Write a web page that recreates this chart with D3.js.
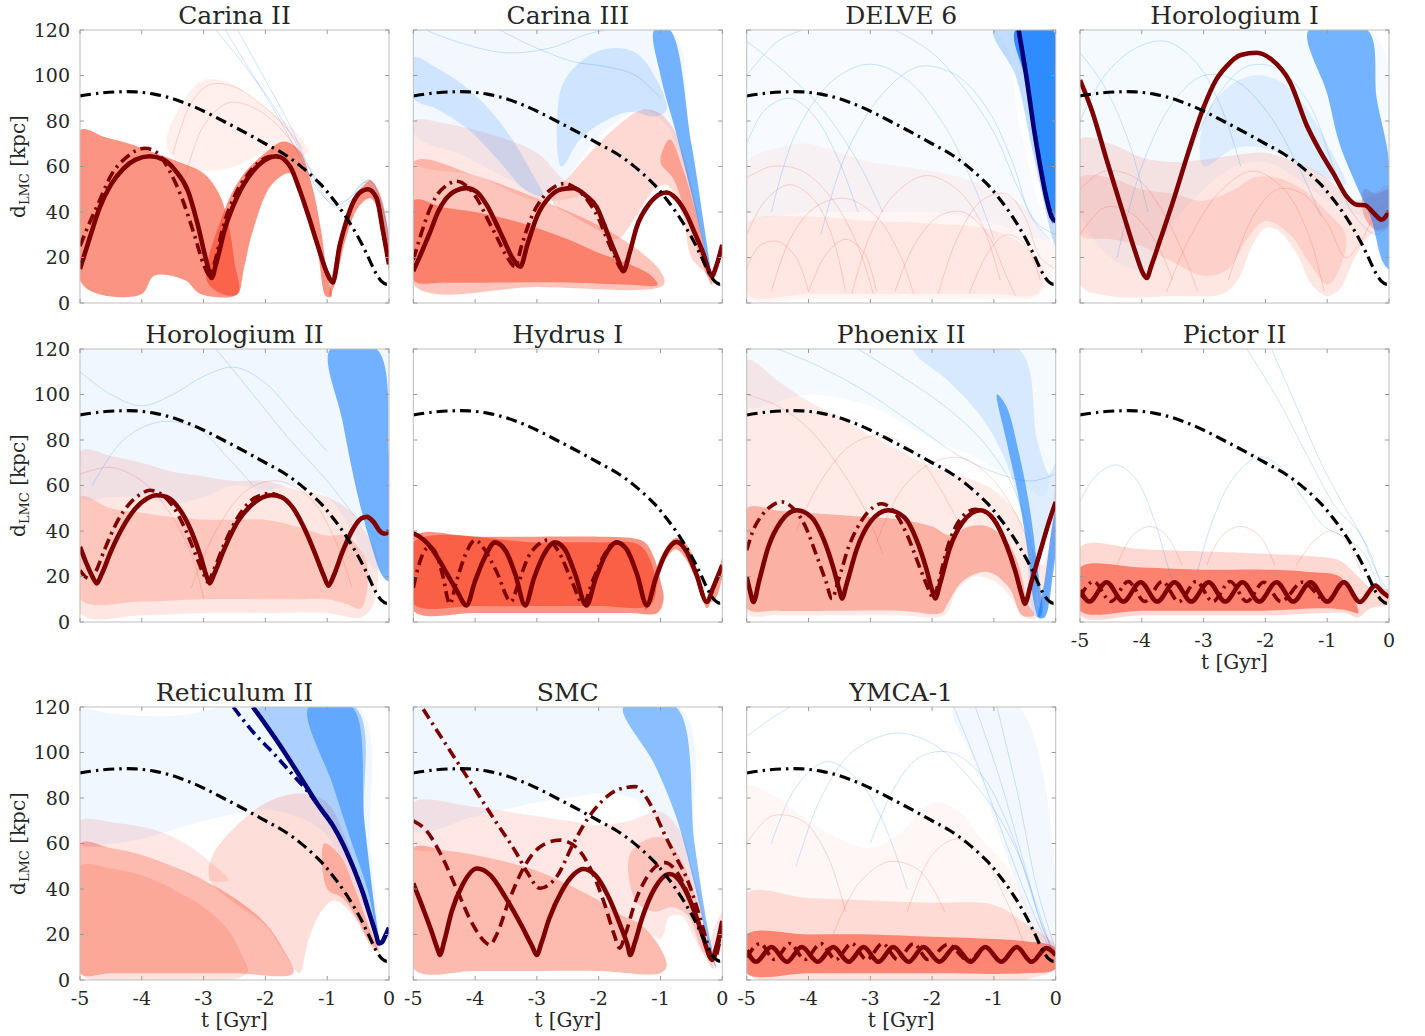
<!DOCTYPE html>
<html><head><meta charset="utf-8">
<script src="https://cdn.jsdelivr.net/npm/d3@7"></script>
<style>body{margin:0;background:#fff}svg{display:block}</style>
</head><body><svg id="c" width="1425" height="1036"></svg>
<script>
// ---------------- axis ticks ----------------
const xTicks = [-5,-4,-3,-2,-1,0];
const yTicks = [0,20,40,60,80,100,120];
const panelNames = ["Carina II","Carina III","DELVE 6","Horologium I","Horologium II","Hydrus I","Phoenix II","Pictor II","Reticulum II","SMC","YMCA-1"];

// ---------------- LMC (black dash-dot, same in every panel) ----------------
const lmc = [[-5,91],[-4.7,92.2],[-4.4,92.8],[-4.1,92.8],[-3.8,91.8],[-3.5,89.8],[-3.2,86.8],[-2.9,83],[-2.6,78.8],[-2.3,74.5],[-2,70],[-1.7,65.5],[-1.4,59.5],[-1.1,52],[-0.9,45.5],[-0.7,38],[-0.5,29],[-0.35,21],[-0.22,13.5],[-0.12,9.5],[-0.05,8.3],[0,8.5]];

// ---------------- Carina II ----------------
const car2Solid = [[-5,15],[-4.85,28],[-4.68,42],[-4.5,52],[-4.3,59],[-4.1,63],[-3.87,64.5],[-3.65,63],[-3.45,58],[-3.25,49],[-3.1,35],[-2.95,18],[-2.87,11],[-2.8,17],[-2.65,33],[-2.45,47],[-2.2,58],[-2.0,63],[-1.82,64.5],[-1.6,60],[-1.45,50],[-1.3,38],[-1.15,25],[-1.0,13],[-0.91,9],[-0.8,25],[-0.7,35],[-0.6,43],[-0.45,49],[-0.34,50],[-0.2,46],[-0.1,32],[0,17]];
const car2DashDot = [[-5,25],[-4.85,35],[-4.7,44],[-4.5,56],[-4.25,64],[-3.95,68],[-3.75,66],[-3.55,58],[-3.35,46],[-3.15,30],[-3.0,17],[-2.9,12],[-2.82,18],[-2.68,34],[-2.5,47],[-2.3,56],[-2.1,62],[-1.9,64.5],[-1.7,63],[-1.6,60],[-1.45,50],[-1.3,38],[-1.15,25],[-1.0,13],[-0.91,9],[-0.8,25],[-0.7,35],[-0.6,43],[-0.45,49],[-0.34,50],[-0.2,46],[-0.1,32],[0,17]];
const car2RedDense = [[-5,76],[-4.6,73],[-4.2,70],[-3.8,66],[-3.4,62],[-3.0,57],[-2.75,48],[-2.6,35],[-2.5,18],[-2.45,4],[-3.05,4],[-3.3,10],[-3.8,12],[-4.0,4],[-4.7,4],[-5,10]];
const car2RedLight = [[-3.6,70],[-3.3,90],[-3.0,98],[-2.6,97],[-2.2,90],[-1.8,82],[-1.5,75],[-1.3,66],[-1.6,64],[-2.0,66],[-2.5,60],[-3.0,58],[-3.4,62]];
const car2RedArc2 = [[-2.95,10],[-2.7,38],[-2.4,55],[-2.0,66],[-1.7,71],[-1.45,67],[-1.25,52],[-1.1,32],[-1.0,12],[-0.93,3],[-1.02,3],[-1.15,22],[-1.35,45],[-1.6,57],[-1.9,52],[-2.2,32],[-2.35,15],[-2.45,4],[-2.7,4]];
const car2RedArc3 = [[-0.96,3],[-0.8,28],[-0.6,45],[-0.4,52],[-0.3,54],[-0.15,48],[0,28],[0,14],[-0.12,36],[-0.3,46],[-0.5,42],[-0.7,28],[-0.88,8]];
const car2Blue1 = [[-2.65,120],[-2.2,100],[-1.8,82],[-1.4,62],[-1.1,48],[-0.85,43],[-0.6,47],[-0.4,53],[-0.25,50],[-0.1,38],[0,25]];
const car2Blue2 = [[-2.45,120],[-2.0,98],[-1.6,78],[-1.3,60],[-1.0,45],[-0.8,42],[-0.55,47],[-0.35,54],[-0.2,50],[0,28]];
const car2Blue3 = [[-2.8,120],[-2.3,103],[-1.9,88],[-1.5,70],[-1.2,55],[-0.95,45],[-0.7,45],[-0.45,52],[-0.3,54],[0,30]];
const car2Red1 = [[-3.5,65],[-3.2,88],[-2.9,96],[-2.5,95],[-2.1,88],[-1.7,78],[-1.4,68]];
const car2Red2 = [[-3.3,55],[-3.0,78],[-2.6,88],[-2.2,86],[-1.8,78],[-1.5,68]];

// ---------------- Carina III ----------------
const car3Solid = [[-5,14],[-4.87,22],[-4.73,31],[-4.6,40],[-4.48,45.5],[-4.3,49.5],[-4.14,50.5],[-3.98,49],[-3.81,43],[-3.66,35],[-3.54,28],[-3.4,20],[-3.27,16],[-3.15,26],[-3.0,38],[-2.8,46.5],[-2.6,50],[-2.41,50.5],[-2.2,47],[-2.03,42],[-1.92,35],[-1.82,28],[-1.7,20],[-1.6,14],[-1.5,22],[-1.39,33],[-1.17,44],[-1.0,48],[-0.9,48.6],[-0.75,46],[-0.58,39],[-0.45,31],[-0.31,22],[-0.2,13],[-0.17,11.7],[-0.1,16],[0,25.6]];
const car3DashDot = [[-5,19],[-4.9,28],[-4.78,38],[-4.65,46],[-4.47,51.5],[-4.3,53.5],[-4.12,51],[-3.95,45],[-3.8,37],[-3.65,29],[-3.5,21],[-3.35,16],[-3.25,25],[-3.1,37],[-2.9,46.5],[-2.72,51],[-2.55,52.5],[-2.35,50],[-2.15,44],[-2.0,37],[-1.88,29],[-1.75,21],[-1.63,15],[-1.5,22],[-1.39,33],[-1.17,44],[-1.0,48],[-0.9,48.6],[-0.75,46],[-0.58,39],[-0.45,31],[-0.31,22],[-0.2,13],[-0.17,11.7],[-0.1,16],[0,25.6]];
const car3RedDense = [[-5,45],[-4.5,42],[-4,40],[-3.5,37],[-3,33],[-2.5,28],[-2,22],[-1.5,17],[-1.15,12],[-1.05,8],[-1.5,8],[-2.5,9],[-3.5,9],[-4.5,9],[-5,10]];
const car3RedMid = [[-5,62],[-4,56],[-3,46],[-2,34],[-1.5,26],[-1.0,14],[-0.95,8],[-3,7],[-5,8]];
const car3RedLight = [[-5,80],[-4.5,79],[-4,76],[-3.5,72],[-3,66],[-2.6,55],[-2.3,48],[-3,45],[-4,56],[-5,62]];
const car3RedFan = [[-2.75,45],[-2.4,58],[-2.0,70],[-1.6,80],[-1.3,85],[-1.05,84],[-0.8,77],[-0.6,62],[-0.42,42],[-0.27,22],[-0.17,8],[-0.1,10],[-0.3,14],[-0.5,20],[-0.62,36],[-0.75,46],[-0.9,52],[-1.1,50],[-1.4,38],[-1.7,28],[-2.0,32],[-2.4,38]];
const car3RedFanDense = [[-0.85,72],[-0.65,60],[-0.45,42],[-0.3,25],[-0.17,8],[-0.25,12],[-0.45,28],[-0.62,42],[-0.8,55],[-1.0,62]];
const car3BlueLight = [[-5,120],[-0.85,120],[-0.55,80],[-0.3,35],[-0.15,10],[-0.35,30],[-0.6,58],[-0.9,78],[-1.3,85],[-1.7,80],[-2.1,70],[-2.5,55],[-2.8,45],[-3.5,55],[-4.2,65],[-5,75]];
const car3BlueFan = [[-1.1,120],[-0.85,120],[-0.5,70],[-0.3,35],[-0.17,10],[-0.3,25],[-0.5,48],[-0.75,75],[-1.0,100]];
const car3BlueMid = [[-2.6,95],[-2.2,108],[-1.8,112],[-1.4,110],[-1.1,100],[-0.9,85],[-1.1,82],[-1.5,84],[-1.9,80],[-2.3,72],[-2.6,60]];
const car3BlueLeft = [[-5,108],[-4.6,103],[-4.2,96],[-3.8,86],[-3.4,72],[-3.1,58],[-2.9,47],[-3.2,50],[-3.6,62],[-4.1,76],[-4.6,85],[-5,90]];
const car3Blue1 = [[-4.8,120],[-4.2,114],[-3.5,110],[-2.8,112],[-2.2,118],[-1.9,120]];
const car3Blue2 = [[-3.6,120],[-3.0,112],[-2.4,106],[-1.9,104],[-1.4,100],[-1.0,90]];

// ---------------- DELVE 6 ----------------
const del6Solid = [[-0.6,120],[-0.46,97],[-0.36,78],[-0.25,60],[-0.14,45],[-0.06,37.5],[0,36]];
const del6BlueDense = [[-0.65,120],[-0.05,120],[0,100],[0,42],[-0.05,35],[-0.1,40],[-0.25,62],[-0.45,95]];
const del6BlueMid = [[-1.0,120],[0,120],[0,25],[-0.05,28],[-0.2,45],[-0.4,70],[-0.65,100]];
const del6BlueLight = [[-5,120],[-1,120],[-0.6,80],[-0.3,45],[-0.1,28],[-1,35],[-2,40],[-3,40],[-4,40],[-5,40]];
const del6RedLight = [[-5,62],[-4.5,68],[-4,70],[-3.5,66],[-3,62],[-2.5,60],[-2,58],[-1.5,55],[-1,50],[-0.5,42],[-0.2,30],[0,25],[0,18],[-0.3,3],[-1,2],[-2,2],[-3,2],[-4,2],[-5,3]];
const del6RedMid = [[-5,35],[-4,38],[-3,36],[-2,35],[-1,32],[-0.5,25],[-0.2,15],[-0.3,4],[-1,4],[-2,4],[-3,4],[-4,4],[-5,4]];
const del6R1 = [[-5,30],[-4.7,45],[-4.3,52],[-3.9,45],[-3.6,28],[-3.4,5]];
const del6R2 = [[-4.6,5],[-4.3,28],[-3.9,42],[-3.4,46],[-2.9,38],[-2.5,20],[-2.3,4]];
const del6R3 = [[-3.3,4],[-3.0,30],[-2.6,48],[-2.1,56],[-1.6,50],[-1.2,35],[-0.9,10]];
const del6R4 = [[-5,55],[-4.6,60],[-4.1,58],[-3.6,45],[-3.2,25],[-2.95,4]];
const del6R5 = [[-2.6,5],[-2.3,25],[-1.9,38],[-1.5,40],[-1.1,30],[-0.8,12],[-0.65,3]];
const del6R6 = [[-1.9,4],[-1.6,28],[-1.2,45],[-0.8,48],[-0.5,38],[-0.25,20],[0,15]];
const del6R7 = [[-5,15],[-4.8,25],[-4.5,27],[-4.2,20],[-4.0,5]];
const del6R8 = [[-4.0,5],[-3.7,22],[-3.4,28],[-3.1,22],[-2.9,5]];
const del6R9 = [[-1.4,4],[-1.1,22],[-0.8,30],[-0.5,26],[-0.25,10]];
const del6B1 = [[-5,100],[-4.5,115],[-4.1,120]];
const del6B2 = [[-4.6,40],[-4.2,75],[-3.6,98],[-3.0,105],[-2.4,98],[-1.8,78],[-1.3,50],[-1.0,28]];
const del6B3 = [[-3.8,30],[-3.4,65],[-2.8,92],[-2.2,104],[-1.6,100],[-1.1,85],[-0.7,62],[-0.4,38],[-0.1,28]];
const del6B4 = [[-5,70],[-4.7,85],[-4.3,90],[-3.9,82],[-3.5,62],[-3.2,40]];
const del6B5 = [[-2.6,120],[-2.0,110],[-1.5,95],[-1.0,75],[-0.6,50],[-0.3,35],[0,30]];
const del6B6 = [[-5,115],[-4.4,102],[-3.8,86],[-3.2,62],[-2.8,40]];

// ---------------- Horologium I ----------------
const hor1Solid = [[-5,98],[-4.8,84],[-4.57,63],[-4.4,48],[-4.24,34],[-4.1,22],[-3.98,13],[-3.92,11],[-3.85,16],[-3.7,28],[-3.49,45],[-3.25,66],[-3.0,86],[-2.8,98],[-2.63,104],[-2.4,109],[-2.14,110],[-1.9,107],[-1.6,97],[-1.33,78],[-1.1,66],[-0.9,57],[-0.69,47],[-0.52,43.2],[-0.39,43],[-0.25,39.6],[-0.12,36.6],[0,40.3]];
const hor1RedLight = [[-5,72],[-4.5,70],[-4,64],[-3.5,62],[-3,63],[-2.5,65],[-2,66],[-1.5,62],[-1.0,55],[-0.6,45],[-0.3,47],[0,52],[0,33],[-0.3,30],[-0.55,20],[-0.8,6],[-1.0,3],[-1.25,8],[-1.5,22],[-1.8,32],[-2.0,33],[-2.2,26],[-2.45,10],[-2.7,4],[-3.5,3],[-4.5,3],[-5,8]];
const hor1RedDense = [[-5,55],[-4.5,55],[-4,50],[-3.5,48],[-3,45],[-2.5,50],[-2.2,55],[-1.8,55],[-1.4,50],[-1.0,40],[-0.7,30],[-0.8,15],[-1.0,8],[-1.3,18],[-1.6,30],[-2.0,36],[-2.3,28],[-2.6,15],[-3,12],[-3.5,18],[-4,25],[-4.5,28],[-5,30]];
const hor1RedRight = [[-0.4,50],[-0.2,48],[0,50],[0,35],[-0.2,32],[-0.4,38]];
const hor1BlueLight = [[-5,120],[-0.3,120],[0,60],[0,18],[-0.3,35],[-0.6,40],[-1,45],[-1.5,55],[-2,62],[-2.5,60],[-3,50],[-3.5,35],[-4,15],[-4.5,20],[-5,40]];
const hor1BlueFan = [[-1.3,120],[-0.35,120],[-0.2,90],[0,62],[0,15],[-0.1,18],[-0.3,38],[-0.5,50],[-0.8,70],[-1.0,92]];
const hor1BlueMid = [[-3.0,80],[-2.6,95],[-2.2,100],[-1.8,98],[-1.4,88],[-1.0,70],[-0.7,52],[-1.0,55],[-1.5,62],[-2.0,68],[-2.5,68],[-3.0,60]];
const hor1B1 = [[-5,80],[-4.6,100],[-4.1,112],[-3.6,115],[-3.1,105],[-2.7,85],[-2.4,60]];
const hor1B2 = [[-4.4,20],[-4.0,60],[-3.5,88],[-3.0,100],[-2.5,98],[-2.0,85],[-1.5,62],[-1.1,38]];
const hor1B3 = [[-3.3,60],[-2.8,90],[-2.3,104],[-1.8,103],[-1.3,88],[-0.9,60],[-0.6,40],[-0.2,30],[0,35]];
const hor1B4 = [[-5,110],[-4.6,95],[-4.2,70],[-3.9,40]];
const hor1R1 = [[-5,50],[-4.6,58],[-4.1,55],[-3.7,42],[-3.3,20],[-3.1,5]];
const hor1R2 = [[-3.6,5],[-3.2,30],[-2.7,50],[-2.2,58],[-1.7,50],[-1.3,30],[-1.05,5]];
const hor1R3 = [[-5,30],[-4.6,42],[-4.2,40],[-3.8,28],[-3.5,10]];
const hor1R4 = [[-2.6,10],[-2.2,38],[-1.8,50],[-1.4,48],[-1.0,35],[-0.7,20],[-0.5,25],[-0.2,40],[0,45]];

// ---------------- Horologium II ----------------
const hor2Solid = [[-5,33],[-4.9,26],[-4.8,20],[-4.73,17],[-4.65,21],[-4.5,31],[-4.3,42],[-4.1,50],[-3.9,54.5],[-3.76,55.7],[-3.6,55],[-3.4,50],[-3.2,40],[-3.05,29],[-2.95,20],[-2.9,17],[-2.83,21],[-2.65,33],[-2.45,44],[-2.2,52],[-2.0,55.3],[-1.9,55.7],[-1.75,55],[-1.55,50],[-1.35,40],[-1.18,29],[-1.05,20],[-0.98,16],[-0.9,20],[-0.75,31],[-0.6,40],[-0.45,45.5],[-0.36,46.2],[-0.25,44],[-0.15,40],[-0.09,38.9],[-0.04,39],[0,40.3]];
const hor2DashDot = [[-5,22.7],[-4.92,20],[-4.84,19],[-4.75,22],[-4.6,32],[-4.4,44],[-4.2,52],[-4.0,56.5],[-3.87,57.9],[-3.7,56.5],[-3.5,51],[-3.3,41],[-3.12,29],[-3.0,21],[-2.93,17.6],[-2.85,22],[-2.67,34],[-2.47,45],[-2.25,53],[-2.05,56],[-1.93,56.5],[-1.75,55],[-1.55,50],[-1.35,40],[-1.18,29],[-1.05,20],[-0.98,16],[-0.9,20],[-0.75,31],[-0.6,40],[-0.45,45.5],[-0.36,46.2],[-0.25,44],[-0.15,40],[-0.09,38.9],[-0.04,39],[0,40.3]];
const hor2RedLight = [[-5,75],[-4.5,73],[-4,70],[-3.5,66],[-3,64],[-2.5,62],[-2,62],[-1.5,58],[-1,55],[-0.6,48],[-0.35,38],[-0.2,30],[-0.25,8],[-0.45,2],[-1,4],[-2,4],[-3,4],[-4,3],[-5,4]];
const hor2RedDense = [[-5,55],[-4.5,50],[-4,48],[-3.5,46],[-3,45],[-2.5,45],[-2,45],[-1.5,42],[-1,38],[-0.7,38],[-0.5,33],[-0.35,25],[-0.45,6],[-0.7,8],[-1,10],[-1.5,10],[-2,10],[-3,10],[-4,9],[-5,10]];
const hor2BlueLight = [[-5,120],[0,120],[0,22],[-0.3,25],[-0.6,40],[-1,55],[-1.5,60],[-2,58],[-2.5,60],[-3,55],[-3.5,52],[-4,55],[-4.5,55],[-5,55]];
const hor2BlueFan = [[-0.95,120],[-0.2,120],[0,72],[0,18],[-0.1,20],[-0.3,35],[-0.5,55],[-0.75,88]];
const hor2B1 = [[-5,110],[-4.5,100],[-4,95],[-3.5,100],[-3,108],[-2.5,112],[-2,105],[-1.5,90],[-1,75]];
const hor2B2 = [[-4.8,60],[-4.3,80],[-3.7,88],[-3.1,85],[-2.6,72],[-2.2,60]];
const hor2B3 = [[-2.8,120],[-2.2,100],[-1.6,80],[-1.0,62],[-0.5,45],[-0.1,35]];
const hor2R1 = [[-5,65],[-4.5,68],[-4,62],[-3.6,50],[-3.2,30],[-3.0,10]];
const hor2R2 = [[-3.2,15],[-2.8,40],[-2.3,58],[-1.8,62],[-1.3,55],[-0.9,38],[-0.6,15]];

// ---------------- Hydrus I ----------------
const hyd1Solid = [[-5,39],[-4.9,37.5],[-4.75,34],[-4.6,28],[-4.45,21],[-4.3,14],[-4.14,7.3],[-4.0,18],[-3.85,28],[-3.68,35],[-3.5,31],[-3.35,21],[-3.19,7.3],[-3.05,19],[-2.9,29],[-2.71,35],[-2.55,32],[-2.38,21],[-2.2,7.3],[-2.05,19],[-1.9,29],[-1.71,35],[-1.55,32],[-1.38,21],[-1.22,7.3],[-1.08,19],[-0.92,30],[-0.74,35.2],[-0.58,31],[-0.42,21],[-0.25,8.8],[-0.15,15],[0,25]];
const hyd1DashDot = [[-5,15],[-4.9,26],[-4.8,32],[-4.73,33],[-4.63,30],[-4.52,20],[-4.41,8],[-4.3,18],[-4.15,30],[-4.0,36],[-3.85,32],[-3.65,22],[-3.42,9],[-3.3,17],[-3.15,28],[-2.98,34],[-2.82,36],[-2.65,31],[-2.45,19],[-2.25,8],[-2.1,18],[-1.92,29],[-1.73,35],[-1.55,32],[-1.38,21],[-1.22,7.3],[-1.08,19],[-0.92,30],[-0.74,35.2],[-0.58,31],[-0.42,21],[-0.25,8.8],[-0.15,15],[0,25]];
const hyd1RedBand = [[-5,37.5],[-4,37.5],[-3,37.5],[-2,37.5],[-1.5,37],[-1.25,35],[-1.1,28],[-1.0,18],[-0.95,10],[-1.05,4],[-1.5,4],[-2,4],[-3,4],[-4,4],[-5,5]];
const hyd1RedCore = [[-5,35],[-3,35],[-2,35],[-1.35,34],[-1.15,26],[-1.08,12],[-1.2,7],[-2,7],[-3,7],[-4,7],[-5,8]];
const hyd1RedArcs = [[-1.25,5],[-1.05,25],[-0.9,33],[-0.74,37],[-0.55,33],[-0.4,22],[-0.25,6],[-0.15,12],[0,28],[0,20],[-0.15,9],[-0.3,10],[-0.45,20],[-0.6,28],[-0.75,32],[-0.95,26],[-1.1,12]];

// ---------------- Phoenix II ----------------
const pho2Solid = [[-5,19.8],[-4.95,14],[-4.89,8.8],[-4.8,18],[-4.65,33],[-4.45,44],[-4.19,49.1],[-3.95,46],[-3.75,36],[-3.6,24],[-3.5,14],[-3.46,10.3],[-3.38,17],[-3.22,32],[-3.0,44],[-2.71,49.1],[-2.45,46],[-2.25,36],[-2.1,24],[-2.0,14],[-1.95,10.3],[-1.87,17],[-1.72,32],[-1.5,44],[-1.22,49.1],[-1.0,45],[-0.8,34],[-0.65,22],[-0.55,12],[-0.5,8],[-0.4,17],[-0.25,31],[-0.12,43],[0,52.8]];
const pho2DashDot = [[-5,31.5],[-4.9,40],[-4.75,47],[-4.6,51],[-4.43,52.8],[-4.25,50],[-4.05,42],[-3.88,30],[-3.72,18],[-3.62,10.3],[-3.52,18],[-3.35,33],[-3.13,45],[-2.95,50.5],[-2.82,52],[-2.6,48],[-2.4,38],[-2.2,24],[-2.05,14],[-1.98,10.3],[-1.9,17],[-1.76,32],[-1.55,45],[-1.3,49.5],[-1.22,49.1],[-1.0,45],[-0.8,34],[-0.65,22],[-0.55,12],[-0.5,8],[-0.4,17],[-0.25,31],[-0.12,43],[0,52.8]];
const pho2RedLight = [[-5,115],[-4.5,106],[-4,97],[-3.5,90],[-3,82],[-2.5,75],[-2,68],[-1.5,64],[-1,58],[-0.6,46],[-0.35,28],[-0.2,25],[0,62],[0,38],[-0.15,10],[-0.3,2],[-0.5,2],[-0.7,10],[-1.0,18],[-1.3,20],[-1.6,14],[-1.8,3],[-2.5,3],[-3.5,3],[-4.5,3],[-5,4]];
const pho2RedDense = [[-5,50],[-4.5,49],[-4,48],[-3.5,47],[-3,46],[-2.5,45],[-2,42],[-1.7,38],[-1.4,42],[-1.1,42],[-0.8,36],[-0.6,25],[-0.45,8],[-0.35,3],[-0.55,3],[-0.75,15],[-1.1,22],[-1.5,18],[-1.75,8],[-1.85,4],[-2.5,5],[-3.5,5],[-4.5,5],[-5,6]];
const pho2BlueLight = [[-5,120],[0,120],[0,70],[-0.1,62],[-0.2,55],[-0.4,58],[-0.7,64],[-1.0,68],[-1.5,75],[-2,80],[-2.5,88],[-3,95],[-4,100],[-5,95]];
const pho2BlueMid = [[-2.3,120],[-0.6,120],[-0.3,80],[-0.1,65],[0,70],[0,50],[-0.15,40],[-0.25,25],[-0.3,8],[-0.2,2],[-0.35,3],[-0.5,40],[-0.8,70],[-1.2,90],[-1.7,105]];
const pho2BlueStreakA = [[-0.95,100],[-0.8,80],[-0.6,55],[-0.45,30],[-0.35,8],[-0.28,2],[-0.22,4],[-0.3,25],[-0.42,50],[-0.6,75],[-0.8,95]];
const pho2BlueStreakB = [[-0.28,2],[-0.18,2],[-0.05,20],[0,32],[0,50],[-0.08,38],[-0.18,18],[-0.25,8]];
const pho2R1 = [[-5,100],[-4.5,95],[-4.0,85],[-3.5,68],[-3.1,50],[-2.8,30]];
const pho2R2 = [[-4.2,40],[-3.8,62],[-3.3,78],[-2.8,82],[-2.3,75],[-1.9,60],[-1.5,40]];
const pho2R3 = [[-2.9,35],[-2.5,58],[-2.0,70],[-1.5,72],[-1.0,62],[-0.6,45],[-0.3,25]];
const pho2B1 = [[-4.5,120],[-3.8,112],[-3.0,100],[-2.2,85],[-1.5,72],[-0.9,65],[-0.4,62],[0,65]];
const pho2B2 = [[-3.2,120],[-2.5,108],[-1.8,95],[-1.2,80],[-0.7,60],[-0.4,35],[-0.25,5]];

// ---------------- Pictor II ----------------
const pic2Solid = [[-5,14],[-4.85,9],[-4.57,17.5],[-4.3,9],[-4.02,17.5],[-3.75,9],[-3.47,17.5],[-3.2,9],[-2.92,17.5],[-2.65,9],[-2.37,17.5],[-2.1,9],[-1.82,17.5],[-1.55,9],[-1.27,17.5],[-1.0,9],[-0.73,17.5],[-0.47,8.8],[-0.22,16],[-0.1,13],[0,11]];
const pic2DashDot = [[-5,11],[-4.78,17.8],[-4.5,9],[-4.22,17.8],[-3.95,9],[-3.67,17.8],[-3.4,9],[-3.12,17.8],[-2.85,9],[-2.57,17.8],[-2.3,9],[-2.03,17.5],[-1.75,9],[-1.4,17.5],[-1.0,9],[-0.73,17.5],[-0.47,8.8],[-0.22,16],[-0.1,13],[0,11]];
const pic2RedLight = [[-5,33],[-4,32],[-3,31],[-2,30],[-1.3,29],[-0.8,27],[-0.5,20],[-0.3,15],[0,14],[0,8],[-0.3,6],[-0.5,2],[-0.7,4],[-1,4],[-2,3],[-3,3],[-4,3],[-5,3]];
const pic2RedDense = [[-5,24],[-4,24],[-3,23],[-2,23],[-1.3,22],[-0.8,20],[-0.6,12],[-0.5,4],[-0.65,5],[-1,6],[-2,5],[-3,5],[-4,5],[-5,5]];
const pic2Blue1 = [[-5,53],[-4.75,64],[-4.42,69],[-4.1,63],[-3.8,45],[-3.55,22],[-3.45,15]];
const pic2Blue2 = [[-3.1,22],[-2.85,45],[-2.5,64],[-2.1,72.6],[-1.75,68],[-1.4,55],[-1.05,42],[-0.7,37],[-0.4,30],[-0.15,15],[0,12]];
const pic2Blue3 = [[-2.3,120],[-1.8,98],[-1.3,72],[-0.85,50],[-0.5,40],[-0.3,30],[-0.1,15],[0,12]];
const pic2Blue4 = [[-1.9,120],[-1.5,95],[-1.1,70],[-0.75,52],[-0.45,38],[-0.2,22],[0,13]];
const pic2Red1 = [[-4.4,25],[-4.15,38],[-3.87,42],[-3.6,38],[-3.35,25]];
const pic2Red2 = [[-2.95,25],[-2.7,38],[-2.41,42],[-2.1,38],[-1.85,25]];
const pic2Red3 = [[-1.5,25],[-1.2,36],[-0.95,40],[-0.7,36],[-0.45,22]];

// ---------------- Reticulum II ----------------
const ret2Solid = [[-2.2,120],[-1.76,103],[-1.44,89.5],[-1.15,77],[-0.9,67.5],[-0.75,60],[-0.63,52.8],[-0.52,45.5],[-0.42,38.1],[-0.32,29.5],[-0.25,23.5],[-0.2,19],[-0.17,16.1],[-0.12,16.5],[-0.05,20],[0,23]];
const ret2DashDot = [[-2.52,120],[-2.2,109],[-1.87,99.7],[-1.55,90],[-1.35,84],[-1.15,77],[-0.9,67.5],[-0.75,60],[-0.63,52.8],[-0.52,45.5],[-0.42,38.1],[-0.32,29.5],[-0.25,23.5],[-0.2,19],[-0.17,16.1],[-0.12,16.5],[-0.05,20],[0,23]];
const ret2RedA = [[-5,60],[-4.5,58],[-4,55],[-3.5,50],[-3,44],[-2.5,36],[-2,25],[-1.7,13],[-1.55,3],[-2.5,3],[-3.5,3],[-4.5,3],[-5,3]];
const ret2RedB = [[-5,70],[-4.4,69],[-3.8,66],[-3.3,60],[-2.9,52],[-2.6,44],[-3,44],[-3.5,50],[-4,55],[-4.5,58],[-5,60]];
const ret2RedC = [[-5,50],[-4.5,49],[-4,46],[-3.5,40],[-3,32],[-2.6,22],[-2.4,12],[-2.3,3],[-5,3]];
const ret2RedFan = [[-2.85,55],[-2.3,72],[-1.9,79],[-1.4,82],[-1.0,78],[-0.7,62],[-0.45,40],[-0.25,20],[-0.15,12],[-0.3,15],[-0.5,25],[-0.7,32],[-0.9,35],[-1.1,30],[-1.3,18],[-1.45,3],[-1.6,8],[-2.0,24],[-2.5,34],[-2.9,44]];
const ret2RedFanDense = [[-1.05,60],[-0.8,55],[-0.55,40],[-0.35,25],[-0.17,13],[-0.3,16],[-0.5,26],[-0.75,36],[-1.0,40]];
const ret2BlueLight = [[-5,118],[-4.5,117],[-4,116],[-3.5,116],[-3,118],[-2.7,120],[-0.5,120],[-0.3,60],[-0.17,16],[-0.3,25],[-0.5,38],[-0.8,55],[-1.1,66],[-1.5,72],[-2,75],[-2.5,73],[-3,70],[-3.5,66],[-4,62],[-4.5,60],[-5,60]];
const ret2BlueWide = [[-2.1,120],[-0.55,120],[-0.4,70],[-0.25,35],[-0.15,15],[-0.3,30],[-0.5,46],[-0.75,60],[-1.1,76],[-1.5,91],[-1.8,103]];
const ret2BlueFan = [[-1.3,120],[-0.6,120],[-0.4,70],[-0.25,35],[-0.16,16],[-0.35,40],[-0.6,60],[-0.9,85]];

// ---------------- SMC ----------------
const smcSolid = [[-5,42.5],[-4.85,32],[-4.7,21],[-4.6,13],[-4.57,11],[-4.5,17],[-4.38,30],[-4.2,42],[-3.97,49],[-3.75,46],[-3.5,36],[-3.25,24],[-3.08,15],[-3.0,11],[-2.93,16],[-2.8,27],[-2.6,39],[-2.4,46.5],[-2.25,48.8],[-2.05,46],[-1.85,37],[-1.65,24],[-1.53,15],[-1.49,11],[-1.42,16],[-1.3,27],[-1.1,40],[-0.85,46.6],[-0.65,42],[-0.45,30],[-0.3,18],[-0.2,10],[-0.17,8.8],[-0.1,14],[0,26]];
const smcDashed = [[-5,70],[-4.8,66],[-4.55,55],[-4.3,40],[-4.05,25],[-3.85,17],[-3.76,15.4],[-3.65,20],[-3.45,35],[-3.2,50],[-2.95,58.5],[-2.63,61.5],[-2.35,58],[-2.1,47],[-1.9,33],[-1.75,20],[-1.66,14],[-1.57,20],[-1.4,35],[-1.2,46],[-0.93,51.6],[-0.7,46],[-0.5,34],[-0.32,20],[-0.2,10],[-0.13,9],[-0.05,16],[0,24]];
const smcDashDot = [[-4.84,119],[-4.5,104.7],[-4.1,88],[-3.7,71],[-3.33,55.7],[-3.15,47],[-2.95,40.3],[-2.8,42],[-2.68,45.4],[-2.41,60],[-2.2,70],[-1.98,77.7],[-1.7,83.5],[-1.41,85],[-1.25,81],[-1.12,75],[-0.95,65],[-0.75,54],[-0.58,45],[-0.4,31],[-0.25,17],[-0.15,9],[-0.08,14],[0,24]];
const smcRedDense = [[-5,58],[-4.5,57],[-4,55],[-3.5,52],[-3,48],[-2.5,42],[-2,35],[-1.6,28],[-1.3,24],[-1.0,14],[-0.9,6],[-1.0,3],[-2,4],[-3,4],[-4,4],[-5,5]];
const smcRedLight = [[-5,78],[-4,76],[-3,72],[-2.5,70],[-2,68],[-1.5,70],[-1.0,74],[-0.7,66],[-0.45,45],[-0.25,22],[-0.15,5],[-0.05,10],[0,22],[0,30],[-0.1,25],[-0.3,12],[-0.45,18],[-0.65,28],[-0.85,28],[-1.0,18],[-1.3,24],[-1.6,28],[-2,35],[-2.5,42],[-3,48],[-3.5,52],[-4,55],[-4.5,57],[-5,58]];
const smcRedFan = [[-1.5,55],[-1.2,62],[-0.9,62],[-0.65,52],[-0.45,38],[-0.28,18],[-0.15,5],[-0.35,14],[-0.55,28],[-0.8,32],[-1.1,30],[-1.4,35]];
const smcBlueLight = [[-5,120],[-0.7,120],[-0.45,60],[-0.25,25],[-0.12,6],[-0.35,28],[-0.6,48],[-0.9,65],[-1.3,78],[-1.8,82],[-2.5,80],[-3,78],[-4,72],[-5,66]];
const smcBlueFan = [[-1.6,120],[-0.75,120],[-0.45,60],[-0.25,25],[-0.1,5],[-0.22,15],[-0.45,42],[-0.75,72],[-1.1,95]];

// ---------------- YMCA-1 ----------------
const ymcaSolid = [[-5,13],[-4.85,8],[-4.6,14.5],[-4.35,8],[-4.11,14.5],[-3.85,8],[-3.6,14.5],[-3.35,8],[-3.11,14.5],[-2.87,8],[-2.63,14.5],[-2.38,8],[-2.14,14.5],[-1.88,8],[-1.63,14.5],[-1.38,8],[-1.14,14.5],[-0.88,8],[-0.63,14.5],[-0.39,8],[-0.15,14],[0,11]];
const ymcaDashDot = [[-5,10],[-4.78,16],[-4.55,9],[-4.3,16],[-4.06,9],[-3.8,16],[-3.56,9],[-3.3,16],[-3.06,9],[-2.8,16],[-2.56,9],[-2.3,16],[-2.07,9],[-1.75,15.5],[-1.4,8.5],[-1.14,14.5],[-0.88,8],[-0.63,14.5],[-0.39,8],[-0.15,14],[0,11]];
const ymcaRedDense = [[-5,20],[-4,20],[-3,20],[-2,19],[-1,18],[-0.5,17],[0,14],[0,5],[-0.5,3],[-2,3],[-3,3],[-4,3],[-5,3]];
const ymcaRedMid = [[-5,38],[-4,36],[-3,35],[-2,34],[-1,33],[-0.5,25],[0,15],[0,5],[-5,3]];
const ymcaRedLight = [[-5,85],[-4.5,80],[-4,70],[-3.5,62],[-3,58],[-2.5,65],[-2,78],[-1.6,75],[-1.2,62],[-0.8,50],[-0.4,30],[0,15],[-5,15]];
const ymcaBlueFan = [[-1.65,120],[-0.6,120],[-0.05,15],[-0.2,14],[-0.8,55],[-1.3,95]];
const ymcaBlue1 = [[-5,107],[-4.6,115],[-4.3,120]];
const ymcaBlue2 = [[-4.2,50],[-3.8,80],[-3.3,100],[-2.6,108.5],[-2,104],[-1.5,92],[-1,75],[-0.6,55],[-0.3,30],[-0.05,12]];
const ymcaBlue3 = [[-3.0,60],[-2.6,85],[-2.2,98],[-1.7,100],[-1.2,90],[-0.8,70],[-0.4,40],[-0.05,12]];
const ymcaBlue4 = [[-1.65,120],[-1.2,90],[-0.8,60],[-0.4,32],[-0.05,11]];
const ymcaBlue5 = [[-1.3,120],[-0.9,88],[-0.5,50],[-0.2,22],[0,12]];
const ymcaBlue6 = [[-0.95,120],[-0.6,80],[-0.3,40],[0,13]];
const ymcaBlue7 = [[-4.6,60],[-4.2,85],[-3.7,96],[-3.2,88],[-2.8,70],[-2.4,40]];
const ymcaR1 = [[-5,60],[-4.6,72],[-4.1,70],[-3.7,55],[-3.4,30]];
const ymcaR2 = [[-3.6,20],[-3.2,42],[-2.7,52],[-2.2,48],[-1.8,30]];
const ymcaR3 = [[-2.4,30],[-2.0,55],[-1.6,62],[-1.2,55],[-0.8,35],[-0.5,15]];

// ---------------- layout & styles ----------------
const colX = [80, 413.3, 746.7, 1080], rowY = [30, 349, 707];
const PW = 309, PH = 273;
const RED = "#f93d1e", BLUE = "#0a78ff", DARKRED = "#7f0000", NAVY = "#00007a";
const FONT = "'DejaVu Serif', serif";

const panels = [
  {name:panelNames[0], c:0, r:0, main:DARKRED, solid:car2Solid, dashdot:car2DashDot,
   red:[[car2RedLight,0.08],[car2RedDense,0.55],[car2RedArc2,0.55],[car2RedArc3,0.55]], blue:[], fb:[car2Blue1,car2Blue2,car2Blue3], fr:[car2Red1,car2Red2], yl:true},
  {name:panelNames[1], c:1, r:0, main:DARKRED, solid:car3Solid, dashdot:car3DashDot,
   red:[[car3RedLight,0.12],[car3RedMid,0.3],[car3RedDense,0.5],[car3RedFan,0.2],[car3RedFanDense,0.35]],
   blue:[[car3BlueLight,0.05],[car3BlueLeft,0.15],[car3BlueMid,0.15],[car3BlueFan,0.55]], fb:[car3Blue1,car3Blue2], fr:[]},
  {name:panelNames[2], c:2, r:0, main:NAVY, solid:del6Solid, dashdot:null,
   red:[[del6RedLight,0.05],[del6RedMid,0.07]], blue:[[del6BlueLight,0.03],[del6BlueMid,0.25],[del6BlueDense,0.8]],
   fb:[del6B1,del6B2,del6B3,del6B4,del6B5,del6B6], fr:[del6R1,del6R2,del6R3,del6R4,del6R5,del6R6,del6R7,del6R8,del6R9]},
  {name:panelNames[3], c:3, r:0, main:DARKRED, solid:hor1Solid, dashdot:null,
   red:[[hor1RedLight,0.13],[hor1RedDense,0.12],[hor1RedRight,0.3]], blue:[[hor1BlueLight,0.04],[hor1BlueMid,0.1],[hor1BlueFan,0.55]],
   fb:[hor1B1,hor1B2,hor1B3,hor1B4], fr:[hor1R1,hor1R2,hor1R3,hor1R4]},
  {name:panelNames[4], c:0, r:1, main:DARKRED, solid:hor2Solid, dashdot:hor2DashDot,
   red:[[hor2RedLight,0.13],[hor2RedDense,0.18]], blue:[[hor2BlueLight,0.06],[hor2BlueFan,0.55]], fb:[hor2B1,hor2B2,hor2B3], fr:[hor2R1,hor2R2], yl:true},
  {name:panelNames[5], c:1, r:1, main:DARKRED, solid:hyd1Solid, dashdot:hyd1DashDot,
   red:[[hyd1RedBand,0.55],[hyd1RedCore,0.6],[hyd1RedArcs,0.5]], blue:[], fb:[], fr:[]},
  {name:panelNames[6], c:2, r:1, main:DARKRED, solid:pho2Solid, dashdot:pho2DashDot,
   red:[[pho2RedLight,0.1],[pho2RedDense,0.33]], blue:[[pho2BlueLight,0.04],[pho2BlueMid,0.13],[pho2BlueStreakA,0.55],[pho2BlueStreakB,0.6]],
   fb:[pho2B1,pho2B2], fr:[pho2R1,pho2R2,pho2R3]},
  {name:panelNames[7], c:3, r:1, main:DARKRED, solid:pic2Solid, dashdot:pic2DashDot,
   red:[[pic2RedLight,0.2],[pic2RedDense,0.55]], blue:[], fb:[pic2Blue1,pic2Blue2,pic2Blue3,pic2Blue4], fr:[pic2Red1,pic2Red2,pic2Red3], xl:true},
  {name:panelNames[8], c:0, r:2, main:NAVY, solid:ret2Solid, dashdot:ret2DashDot,
   red:[[ret2RedB,0.12],[ret2RedA,0.35],[ret2RedC,0.15],[ret2RedFan,0.17],[ret2RedFanDense,0.3]],
   blue:[[ret2BlueLight,0.06],[ret2BlueWide,0.3],[ret2BlueFan,0.45]], fb:[], fr:[], yl:true, xl:true},
  {name:panelNames[9], c:1, r:2, main:DARKRED, solid:smcSolid, dashdot:smcDashDot, dashed:smcDashed,
   red:[[smcRedLight,0.12],[smcRedDense,0.35],[smcRedFan,0.2]], blue:[[smcBlueLight,0.06],[smcBlueFan,0.45]], fb:[], fr:[], xl:true},
  {name:panelNames[10], c:2, r:2, main:DARKRED, solid:ymcaSolid, dashdot:ymcaDashDot,
   red:[[ymcaRedLight,0.04],[ymcaRedMid,0.15],[ymcaRedDense,0.55]], blue:[[ymcaBlueFan,0.05]],
   fb:[ymcaBlue1,ymcaBlue2,ymcaBlue3,ymcaBlue4,ymcaBlue5,ymcaBlue6,ymcaBlue7], fr:[ymcaR1,ymcaR2,ymcaR3], xl:true}
];

const svg = d3.select("#c");
const defs = svg.append("defs");

panels.forEach((p, i) => {
  const x0 = colX[p.c], y0 = rowY[p.r];
  const x = d3.scaleLinear().domain([-5, 0]).range([0, PW]);
  const y = d3.scaleLinear().domain([0, 120]).range([PH, 0]);
  const g = svg.append("g").attr("transform", `translate(${x0},${y0})`);
  defs.append("clipPath").attr("id", "clip" + i).append("rect").attr("width", PW).attr("height", PH);
  const plot = g.append("g").attr("clip-path", `url(#clip${i})`);

  const area = d3.line().x(d => x(d[0])).y(d => y(d[1])).curve(d3.curveCatmullRomClosed.alpha(0.5));
  const line = d3.line().x(d => x(d[0])).y(d => y(d[1])).curve(d3.curveMonotoneX);
  const smooth = d3.line().x(d => x(d[0])).y(d => y(d[1])).curve(d3.curveCatmullRom.alpha(0.5));

  p.red.forEach(([pts, op]) => plot.append("path").attr("d", area(pts)).attr("fill", RED).attr("fill-opacity", op));
  p.fr.forEach(pts => plot.append("path").attr("d", smooth(pts)).attr("fill", "none").attr("stroke", RED).attr("stroke-opacity", 0.2).attr("stroke-width", 1));
  p.blue.forEach(([pts, op]) => plot.append("path").attr("d", area(pts)).attr("fill", BLUE).attr("fill-opacity", op));
  p.fb.forEach(pts => plot.append("path").attr("d", smooth(pts)).attr("fill", "none").attr("stroke", BLUE).attr("stroke-opacity", 0.2).attr("stroke-width", 1));

  if (p.dashed) plot.append("path").attr("d", line(p.dashed)).attr("fill", "none").attr("stroke", p.main)
      .attr("stroke-width", 3.6).attr("stroke-dasharray", "11,6");
  if (p.dashdot) plot.append("path").attr("d", line(p.dashdot)).attr("fill", "none").attr("stroke", p.main)
      .attr("stroke-width", 3.6).attr("stroke-dasharray", "11,5,2.5,5");
  plot.append("path").attr("d", line(p.solid)).attr("fill", "none").attr("stroke", p.main)
      .attr("stroke-width", 4.6).attr("stroke-linejoin", "round");
  plot.append("path").attr("d", smooth(lmc)).attr("fill", "none").attr("stroke", "#000")
      .attr("stroke-width", 3.2).attr("stroke-dasharray", "11,5,2.5,5");

  // frame and inward ticks
  g.append("rect").attr("width", PW).attr("height", PH).attr("fill", "none").attr("stroke", "#bdbdbd").attr("stroke-width", 1);
  const tk = 4;
  xTicks.forEach(t => {
    g.append("line").attr("x1", x(t)).attr("x2", x(t)).attr("y1", PH).attr("y2", PH - tk).attr("stroke", "#9a9a9a");
    g.append("line").attr("x1", x(t)).attr("x2", x(t)).attr("y1", 0).attr("y2", tk).attr("stroke", "#9a9a9a");
  });
  yTicks.forEach(v => {
    g.append("line").attr("x1", 0).attr("x2", tk).attr("y1", y(v)).attr("y2", y(v)).attr("stroke", "#9a9a9a");
    g.append("line").attr("x1", PW).attr("x2", PW - tk).attr("y1", y(v)).attr("y2", y(v)).attr("stroke", "#9a9a9a");
  });

  // title
  g.append("text").attr("x", PW / 2).attr("y", -6).attr("text-anchor", "middle")
    .attr("font-family", FONT).attr("font-size", 25).attr("fill", "#262626").text(p.name);

  if (p.yl) {
    yTicks.forEach(v => g.append("text").attr("x", -10).attr("y", y(v)).attr("dy", "0.35em")
      .attr("text-anchor", "end").attr("font-family", FONT).attr("font-size", 19).attr("fill", "#262626").text(v));
    const lab = g.append("text").attr("transform", `translate(-55,${PH / 2}) rotate(-90)`).attr("text-anchor", "middle")
      .attr("font-family", FONT).attr("font-size", 20).attr("fill", "#262626");
    lab.append("tspan").text("d");
    lab.append("tspan").attr("font-size", 13).attr("dy", 4).text("LMC");
    lab.append("tspan").attr("dy", -4).text(" [kpc]");
  }
  if (p.xl) {
    xTicks.forEach(t => g.append("text").attr("x", x(t)).attr("y", PH + 25).attr("text-anchor", "middle")
      .attr("font-family", FONT).attr("font-size", 19).attr("fill", "#262626").text(t));
    g.append("text").attr("x", PW / 2).attr("y", PH + 47).attr("text-anchor", "middle")
      .attr("font-family", FONT).attr("font-size", 20).attr("fill", "#262626").text("t [Gyr]");
  }
});
</script>
</body></html>
